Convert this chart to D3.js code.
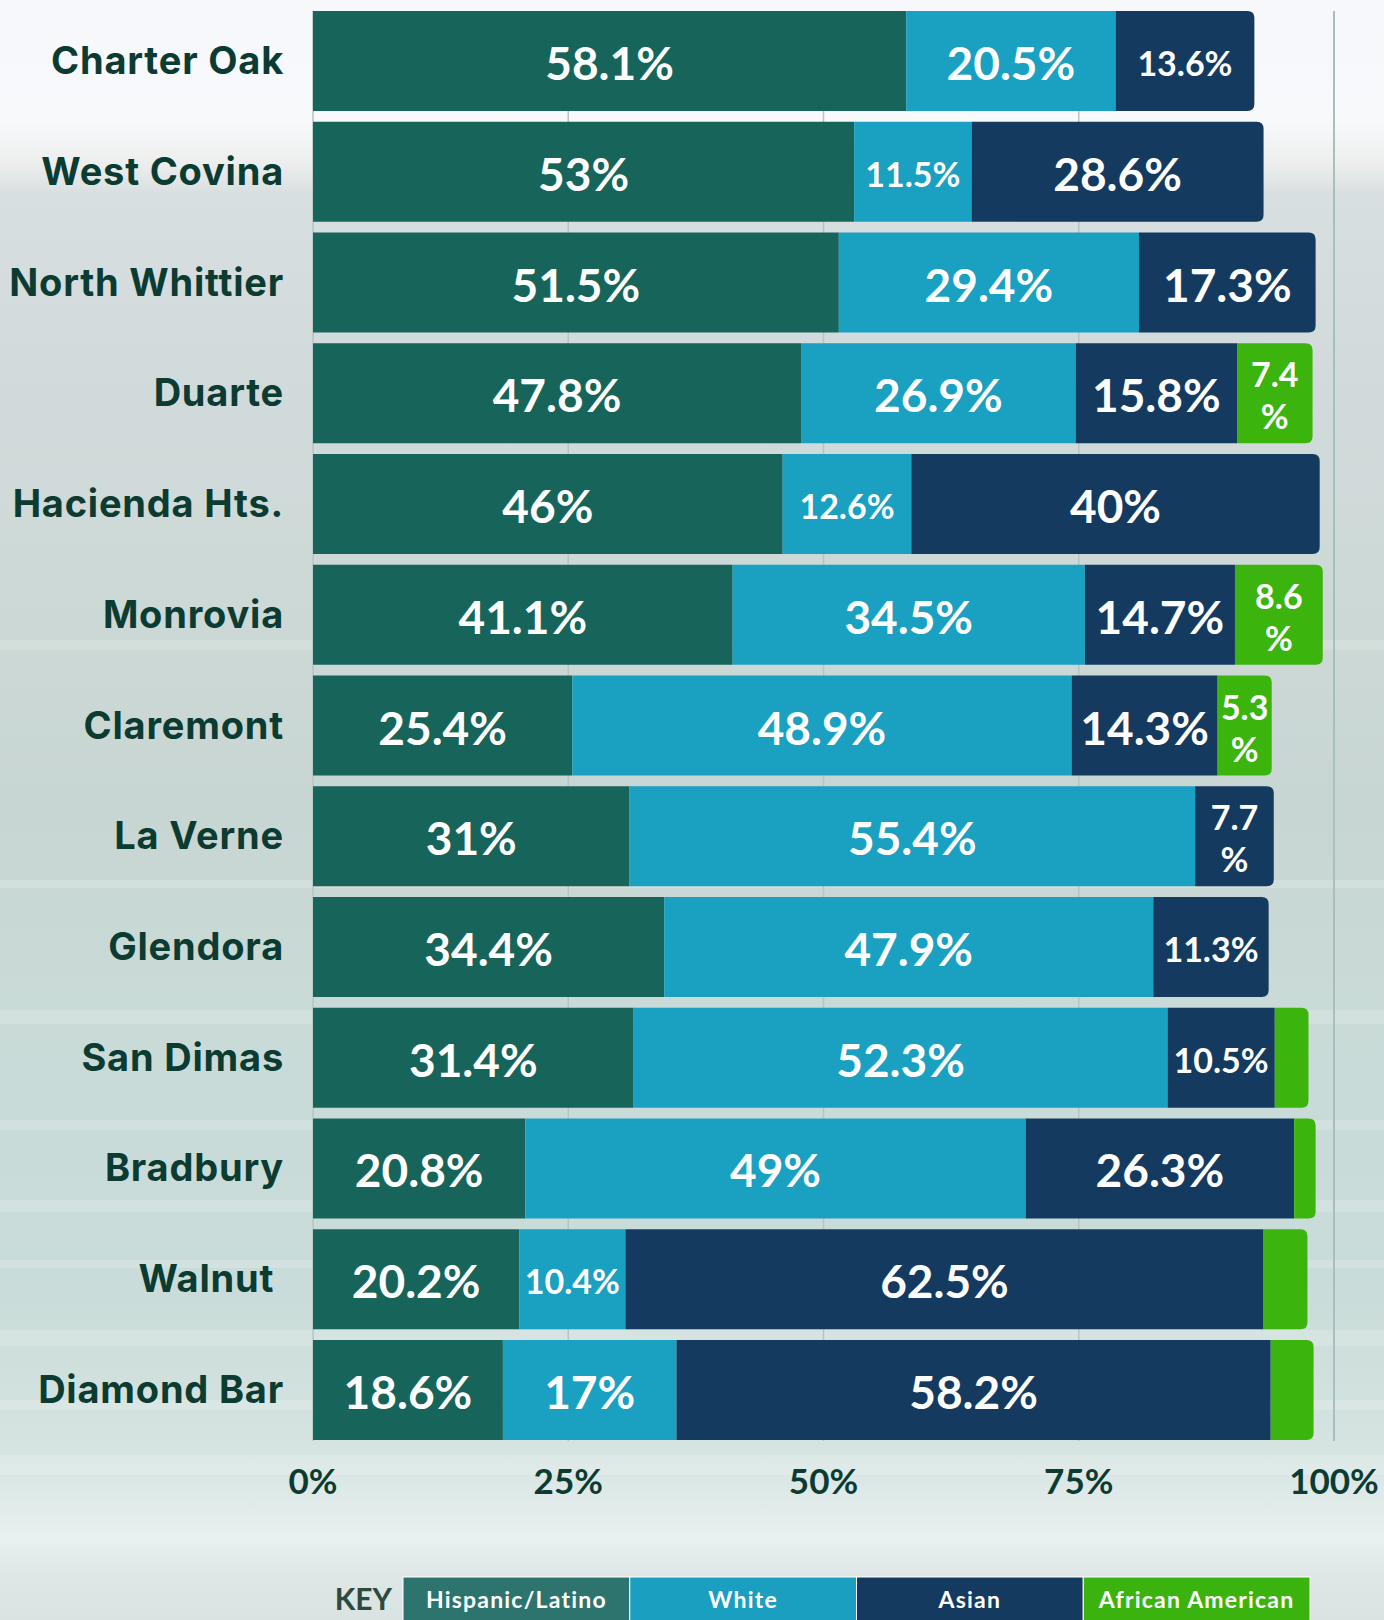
<!DOCTYPE html>
<html>
<head>
<meta charset="utf-8">
<script src="https://cdn.jsdelivr.net/npm/d3@7"></script>
<style>
  body { margin: 0; background: #dfe8e7; }
  svg { display: block; }
</style>
</head>
<body>
<div id="chart"></div>
<script>
const cities = ["Charter Oak", "West Covina", "North Whittier", "Duarte", "Hacienda Hts.", "Monrovia",
    "Claremont", "La Verne", "Glendora", "San Dimas", "Bradbury", "Walnut", "Diamond Bar"];
const hispanic = [58.1, 53, 51.5, 47.8, 46, 41.1, 25.4, 31, 34.4, 31.4, 20.8, 20.2, 18.6];
const white = [20.5, 11.5, 29.4, 26.9, 12.6, 34.5, 48.9, 55.4, 47.9, 52.3, 49, 10.4, 17];
const asian = [13.6, 28.6, 17.3, 15.8, 40, 14.7, 14.3, 7.7, 11.3, 10.5, 26.3, 62.5, 58.2];
const african = [0, 0, 0, 7.4, 0, 8.6, 5.3, 0, 0, 3.3, 2.1, 4.3, 4.2];
const groups = ["Hispanic/Latino", "White", "Asian", "African American"];
const ticks = [0, 25, 50, 75, 100];

const colors = ["#17655a", "#1aa0c1", "#153a60", "#3bb40e"];
const keyColors = ["#2c746d", "#1a9fc1", "#153a60", "#3bb30e"];
const ink = "#0b3b31";
const font = "Lato, 'Open Sans', sans-serif";
const labelFont = "Inter, Lato, sans-serif";

const width = 1384, height = 1620;

const svg = d3.select("#chart").append("svg")
    .attr("width", width)
    .attr("height", height);

// background
let defs = svg.append("defs");
let bg = defs.append("linearGradient")
    .attr("id", "bg")
    .attr("x1", 0).attr("y1", 0).attr("x2", 0).attr("y2", 1);
[[0, "#f6f8fb"], [0.075, "#f7f9fb"], [0.1, "#eeeeee"], [0.12, "#d8dfe0"], [0.2, "#d3dbdd"],
 [0.35, "#cdd9d7"], [0.5, "#c8d6d3"], [0.65, "#c9dbd8"], [0.8, "#cadcd9"], [0.9, "#d6e4e2"],
 [0.95, "#e9f0f0"], [0.97, "#dfe8e7"], [1, "#d9e3e2"]].forEach(s => {
    bg.append("stop").attr("offset", s[0]).attr("stop-color", s[1]);
});
svg.append("rect")
    .attr("width", width)
    .attr("height", height)
    .attr("fill", "url(#bg)");

// faint horizontal streaks in the backdrop
const streaks = [[640, 10], [880, 8], [1010, 14], [1120, 10], [1200, 12], [1260, 8], [1330, 16], [1400, 10], [1455, 20]];
svg.append("g").selectAll("rect")
    .data(streaks)
    .join("rect")
    .attr("x", 0)
    .attr("width", width)
    .attr("y", d => d[0])
    .attr("height", d => d[1])
    .attr("fill", "#ffffff")
    .attr("opacity", 0.18);

let x = d3.scaleLinear()
    .domain([0, 100])
    .range([313, 1334]);

let y = d3.scaleBand()
    .domain(cities)
    .range([11, 1440])
    .paddingInner(0.096)
    .paddingOuter(0);

// gridlines
svg.append("g").selectAll("line")
    .data(ticks)
    .join("line")
    .attr("x1", d => x(d))
    .attr("x2", d => x(d))
    .attr("y1", 11)
    .attr("y2", 1441)
    .attr("stroke", d => d === 100 ? "#a9bfbd" : "#b7c4c3")
    .attr("stroke-width", d => d === 100 ? 2 : 1.5);

// rows
let rows = cities.map((c, i) => {
    let vals = [hispanic[i], white[i], asian[i], african[i]];
    let start = 0;
    let segs = [];
    vals.forEach((v, k) => {
        if (v > 0) segs.push({ city: c, k: k, v: v, x0: start, x1: start + v });
        start += v;
    });
    segs[segs.length - 1].last = true;
    return segs;
});
let segs = rows.flat();

function roundRight(x0, x1, y0, h, r) {
    return `M${x0},${y0}H${x1 - r}Q${x1},${y0} ${x1},${y0 + r}V${y0 + h - r}Q${x1},${y0 + h} ${x1 - r},${y0 + h}H${x0}Z`;
}

svg.append("g").selectAll("path")
    .data(segs)
    .join("path")
    .attr("d", d => {
        let x0 = x(d.x0), x1 = x(d.x1), y0 = y(d.city), h = y.bandwidth();
        if (d.last) return roundRight(x0, x1, y0, h, 7);
        return `M${x0},${y0}H${x1}V${y0 + h}H${x0}Z`;
    })
    .attr("fill", d => colors[d.k]);

// value labels
let labels = svg.append("g")
    .attr("font-family", font)
    .attr("font-weight", 700)
    .attr("fill", "#ffffff")
    .attr("text-anchor", "middle");

segs.filter(d => d.v >= 5).forEach(d => {
    let cx = (x(d.x0) + x(d.x1)) / 2;
    let cy = y(d.city) + y.bandwidth() / 2;
    if (d.v < 9) {
        let t = labels.append("text").attr("font-size", "34px");
        t.append("tspan").attr("x", cx).attr("y", cy - 6).text(d.v);
        t.append("tspan").attr("x", cx).attr("y", cy + 36).text("%");
    } else if (d.v < 14) {
        labels.append("text")
            .attr("x", cx)
            .attr("y", cy + 15)
            .attr("font-size", "34px")
            .text(d.v + "%");
    } else {
        labels.append("text")
            .attr("x", cx)
            .attr("y", cy + 19)
            .attr("font-size", "46px")
            .text(d.v + "%");
    }
});

// city labels
svg.append("g").selectAll("text")
    .data(cities)
    .join("text")
    .attr("x", 284)
    .attr("y", d => y(d) + y.bandwidth() / 2 + 13)
    .attr("text-anchor", "end")
    .attr("font-family", labelFont)
    .attr("font-weight", 700)
    .attr("font-size", "38px")
    .attr("letter-spacing", "0.8px")
    .attr("fill", ink)
    .text(d => d === "Walnut" ? "Walnut\u00a0" : d);

// x axis labels
svg.append("g").selectAll("text")
    .data(ticks)
    .join("text")
    .attr("x", d => x(d))
    .attr("y", 1494)
    .attr("text-anchor", "middle")
    .attr("font-family", font)
    .attr("font-weight", 700)
    .attr("font-size", "35px")
    .attr("fill", ink)
    .text(d => d + "%");

// key
let keyX = d3.scaleBand()
    .domain(groups)
    .range([403, 1310]);

svg.append("text")
    .attr("x", 392)
    .attr("y", 1610)
    .attr("text-anchor", "end")
    .attr("font-family", font)
    .attr("font-weight", 700)
    .attr("font-size", "30px")
    .attr("fill", "#2c4a3f")
    .text("KEY");

let key = svg.append("g");
key.selectAll("rect")
    .data(groups)
    .join("rect")
    .attr("x", d => keyX(d))
    .attr("y", 1577)
    .attr("width", keyX.bandwidth())
    .attr("height", 46)
    .attr("fill", (d, i) => keyColors[i])
    .attr("stroke", "#ffffff")
    .attr("stroke-width", 1);

key.selectAll("text")
    .data(groups)
    .join("text")
    .attr("x", d => keyX(d) + keyX.bandwidth() / 2)
    .attr("y", 1608)
    .attr("text-anchor", "middle")
    .attr("font-family", font)
    .attr("font-weight", 700)
    .attr("font-size", "23px")
    .attr("letter-spacing", "1.2px")
    .attr("fill", "#ffffff")
    .text(d => d);
</script>
</body>
</html>
